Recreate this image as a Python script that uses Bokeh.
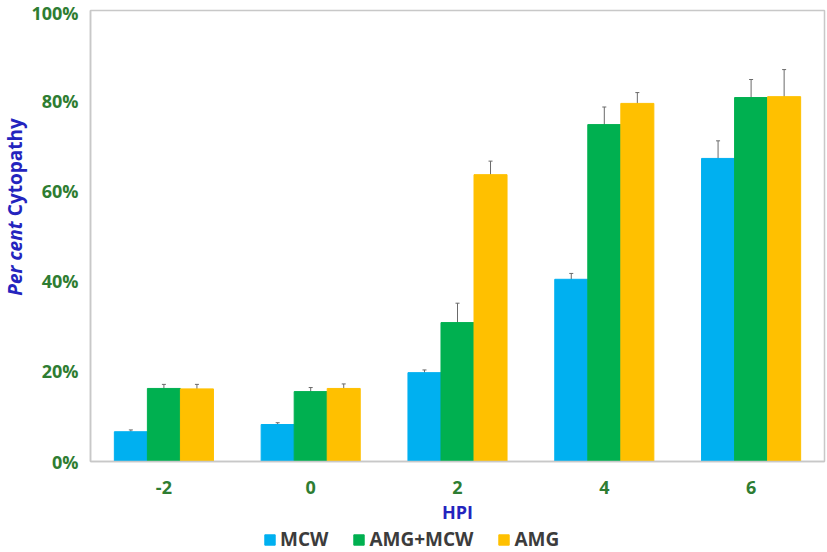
import math
from bokeh.plotting import figure
from bokeh.layouts import gridplot
from bokeh.models import (ColumnDataSource, FactorRange, Whisker, TeeHead, Legend, LegendItem,
                          PrintfTickFormatter, Label, FixedTicker, Range1d)
from bokeh.transform import dodge
from bokeh.embed import file_html
from bokeh.resources import INLINE

hpi = ["-2", "0", "2", "4", "6"]
mcw = [6.6, 8.2, 19.7, 40.4, 67.2]
mcw_err = [0.4, 0.4, 0.6, 1.3, 3.9]
amg_mcw = [16.2, 15.5, 30.8, 74.7, 80.7]
amg_mcw_err = [0.9, 0.9, 4.3, 3.9, 4.0]
amg = [16.1, 16.2, 63.6, 79.4, 80.9]
amg_err = [1.0, 1.0, 3.0, 2.4, 6.0]
series_names = ["MCW", "AMG+MCW", "AMG"]
colors = ["#00B0F0", "#00B050", "#FFC000"]
y_ticks = [0, 20, 40, 60, 80, 100]

GREEN = "#2E7D32"
BLUE = "#2424BE"
FONT = "Open Sans"

src = ColumnDataSource(dict(
    hpi=hpi,
    mcw=mcw, mcw_lo=[v - e for v, e in zip(mcw, mcw_err)], mcw_hi=[v + e for v, e in zip(mcw, mcw_err)],
    am=amg_mcw, am_lo=[v - e for v, e in zip(amg_mcw, amg_mcw_err)], am_hi=[v + e for v, e in zip(amg_mcw, amg_mcw_err)],
    amg=amg, amg_lo=[v - e for v, e in zip(amg, amg_err)], amg_hi=[v + e for v, e in zip(amg, amg_err)],
))

TW = 28          # width of the y-title strip
PW = 827 - TW    # width of the main chart
PH = 526
MBL = 61
MBB = 65
yr = Range1d(0, 100)

p = figure(x_range=FactorRange(*hpi), y_range=yr, width=PW, height=PH,
           output_backend="svg", toolbar_location=None,
           min_border_left=MBL, min_border_right=3, min_border_top=10, min_border_bottom=MBB)

bw = 0.225
offsets = [-bw, 0.0, bw]
cols = [("mcw", "mcw_lo", "mcw_hi"), ("am", "am_lo", "am_hi"), ("amg", "amg_lo", "amg_hi")]
for (c, lo, hi), off, col in zip(cols, offsets, colors):
    p.vbar(x=dodge("hpi", off, range=p.x_range), top=c, width=bw, source=src,
           fill_color=col, line_color=col)
    w = Whisker(base=dodge("hpi", off, range=p.x_range), upper=hi, lower=lo, source=src,
                line_color="#6a6a6a", line_width=1,
                upper_head=TeeHead(size=4, line_color="#6a6a6a", line_width=1),
                lower_head=TeeHead(size=4, line_color="#6a6a6a", line_width=1))
    p.add_layout(w)

p.xgrid.grid_line_color = None
p.ygrid.grid_line_color = None
p.outline_line_color = "#C8C8C8"
p.outline_line_width = 1.5

for ax in (p.xaxis[0], p.yaxis[0]):
    ax.axis_line_color = "#C8C8C8"
    ax.axis_line_width = 1.5
    ax.major_tick_line_color = None
    ax.minor_tick_line_color = None
    ax.major_label_text_font = FONT
    ax.major_label_text_font_style = "bold"
    ax.major_label_text_font_size = "18px"
    ax.major_label_text_color = GREEN

p.yaxis.ticker = FixedTicker(ticks=y_ticks)
p.yaxis.formatter = PrintfTickFormatter(format="%d%%")
p.yaxis.major_label_standoff = 6
p.xaxis.major_label_standoff = 13
p.xaxis.axis_label = "HPI"
p.xaxis.axis_label_text_font = FONT
p.xaxis.axis_label_text_font_style = "bold"
p.xaxis.axis_label_text_font_size = "18px"
p.xaxis.axis_label_text_color = BLUE
p.xaxis.axis_label_standoff = 3

# y-axis title strip: "Per cent" italic + "Cytopathy" upright
ttl = figure(x_range=(0, 1), y_range=yr, width=TW, height=PH, output_backend="svg",
             toolbar_location=None, x_axis_type=None, y_axis_type=None,
             min_border_left=0, min_border_right=0, min_border_top=10, min_border_bottom=MBB)
ttl.outline_line_color = None
ttl.xgrid.grid_line_color = None
ttl.ygrid.grid_line_color = None
ttl.add_layout(Label(x=14, y=53.2, x_units="screen", y_units="data", text="Per cent",
                     angle=math.pi / 2, text_align="right", text_baseline="middle",
                     text_font=FONT, text_font_style="bold italic", text_font_size="19px",
                     text_color=BLUE))
ttl.add_layout(Label(x=14, y=54.4, x_units="screen", y_units="data", text="Cytopathy",
                     angle=math.pi / 2, text_align="left", text_baseline="middle",
                     text_font=FONT, text_font_style="bold", text_font_size="19px",
                     text_color=BLUE))

# legend strip below the chart (hidden swatch renderers)
leg = figure(x_range=FactorRange(*hpi), y_range=(0, 100), width=PW, height=552 - PH,
             output_backend="svg", toolbar_location=None, x_axis_type=None, y_axis_type=None,
             min_border_left=MBL, min_border_right=3, min_border_top=0, min_border_bottom=0)
leg.outline_line_color = None
leg.xgrid.grid_line_color = None
leg.ygrid.grid_line_color = None
swatches = []
for c, col in zip(["mcw", "am", "amg"], colors):
    swatches.append(leg.vbar(x="hpi", top=c, width=bw, source=src, fill_color=col,
                             line_color=col, visible=False))

legend = Legend(items=[LegendItem(label=n, renderers=[r]) for n, r in zip(series_names, swatches)],
                orientation="horizontal", location=(173, 0),
                border_line_color=None, background_fill_alpha=0,
                inactive_fill_alpha=0,
                label_text_font=FONT, label_text_font_style="bold", label_text_font_size="19px",
                label_text_color="#3c3c3c", glyph_width=13, glyph_height=13,
                spacing=24, padding=0, margin=0, label_standoff=4)
leg.add_layout(legend)

layout = gridplot([[ttl, p], [None, leg]], toolbar_location=None)
open("out.html", "w").write(file_html(layout, INLINE))
